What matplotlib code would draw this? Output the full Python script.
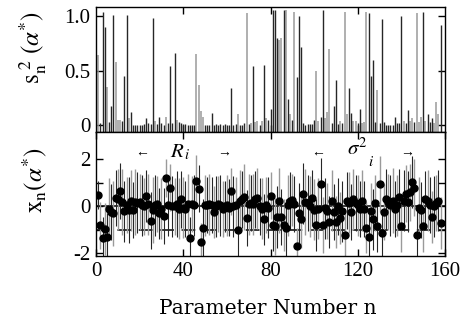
import numpy as np
import matplotlib
matplotlib.use("Agg")
import matplotlib.pyplot as plt
from matplotlib.ticker import FixedLocator

plt.rcParams['font.family'] = ['Liberation Serif', 'DejaVu Serif']
plt.rcParams['mathtext.fontset'] = 'stix'

# ---------------- data ----------------
param_n = list(range(1, 159))

# s_n^2(alpha*) for n = 1..158
s2_values = [
    0.64, 0.02, 1.04, 0.90, 0.35, 0.03, 0.17, 1.01, 0.58, 0.05,
    0.05, 0.04, 0.45, 1.01, 0.06, 0.12, 0.00, 0.00, 0.00, 0.00,
    0.00, 0.01, 0.06, 0.02, 0.01, 0.98, 0.04, 0.01, 0.07, 0.02,
    0.00, 0.07, 0.02, 0.54, 0.02, 0.66, 0.05, 0.03, 0.02, 0.01,
    0.01, 0.00, 0.00, 0.00, 0.00, 0.65, 0.37, 0.13, 0.07, 0.00,
    0.00, 0.00, 0.11, 0.00, 0.01, 0.00, 0.01, 0.00, 0.01, 0.00,
    0.00, 0.34, 0.00, 0.01, 0.10, 0.00, 0.00, 0.02, 1.03, 0.01,
    0.02, 0.54, 0.03, 0.04, 0.00, 0.04, 0.55, 0.06, 0.05, 0.15,
    1.06, 1.06, 0.80, 0.78, 0.80, 1.06, 1.06, 0.24, 0.10, 0.05,
    1.04, 0.44, 1.00, 0.72, 0.02, 0.00, 0.01, 0.01, 0.01, 0.05,
    0.50, 0.04, 0.07, 1.06, 0.06, 0.12, 0.70, 0.02, 0.17, 0.41,
    0.01, 0.04, 0.02, 1.04, 0.10, 0.34, 0.11, 0.04, 0.04, 0.02,
    0.15, 0.02, 0.03, 1.04, 1.03, 0.45, 0.60, 0.03, 0.32, 0.02,
    0.97, 0.03, 0.00, 0.00, 0.00, 0.00, 0.07, 0.02, 0.02, 1.00,
    0.04, 0.02, 0.14, 0.04, 0.06, 0.03, 1.03, 0.03, 0.07, 1.04,
    0.04, 0.10, 0.03, 0.06, 0.02, 0.21, 0.10, 0.92,
]
# parameters whose s_n^2 line is drawn in grey
s2_grey_n = [1, 5, 9, 10, 11, 15, 27, 32, 37, 46, 47, 48, 49, 65, 69, 71,
             73, 74, 76, 78, 84, 85, 87, 89, 91, 101, 102, 105, 106, 107,
             112, 114, 115, 118, 119, 122, 123, 124, 129, 141, 144, 145,
             147, 148, 149, 151, 155, 156, 157]

# x_n(alpha*) for n = 1..158
xn_values = [
    0.50, -0.80, -1.35, -0.95, -1.30, -0.10, -0.25, -0.30, 0.35, 0.30,
    0.65, 0.20, -0.20, 0.05, -0.15, 0.25, -0.15, 0.20, 0.15, 0.20,
    0.05, 0.00, 0.45, 0.10, -0.60, -0.15, 0.05, 0.10, -0.30, -0.10,
    -0.40, 1.20, 0.05, 0.80, 0.00, 0.00, 0.10, -0.10, 0.30, -0.05,
    -0.10, 0.10, -1.35, 0.10, 0.05, 1.10, 0.75, -1.50, -0.90, 0.05,
    0.05, 0.10, 0.05, -0.25, 0.00, 0.10, 0.05, -0.10, 0.00, 0.05,
    -0.05, 0.65, 0.00, 0.05, -1.00, 0.25, 0.30, 0.40, -0.50, 0.10,
    0.15, 0.10, 0.30, 0.35, 0.00, -0.10, -0.55, 0.05, -0.05, 0.45,
    -0.80, -0.85, -0.45, 0.25, -0.45, -0.78, -0.90, 0.05, 0.25, 0.28,
    0.10, -1.70, -0.30, -0.55, 0.55, 0.20, 0.15, 0.00, 0.35, -0.15,
    -0.80, -0.10, 0.95, -0.80, -0.08, -0.20, -0.65, 0.25, -0.25, -0.65,
    0.00, -0.50, -0.20, -1.20, 0.25, 0.15, -0.25, 0.30, 0.15, 0.05,
    -0.10, 0.25, -0.10, -0.90, -1.30, -0.20, -0.55, 0.15, -0.85, 0.95,
    -1.15, -0.25, 0.30, 0.20, 0.05, 0.25, -0.10, 0.05, 0.40, -0.85,
    0.25, 0.55, 0.20, 0.60, 1.05, 0.80, -1.20, -0.05, -0.15, -0.85,
    0.30, 0.25, 0.05, -0.45, 0.00, 0.15, 0.25, -0.70,
]
# half-length of the error bar of x_n
xn_errors = [
    0.6, 1.0, 0.9, 1.1, 1.0, 1.3, 1.2, 1.4, 1.2, 1.3,
    1.2, 1.4, 1.3, 1.2, 1.4, 1.3, 1.2, 1.4, 1.3, 1.2,
    1.3, 1.2, 1.1, 1.3, 1.2, 1.4, 1.3, 1.2, 1.1, 1.3,
    1.2, 0.8, 1.3, 1.0, 1.3, 1.2, 1.4, 1.3, 1.2, 1.3,
    1.2, 1.3, 0.9, 1.2, 1.3, 1.1, 1.0, 0.8, 1.2, 1.3,
    1.2, 1.3, 1.2, 1.1, 1.3, 1.2, 1.3, 1.2, 1.1, 1.3,
    1.2, 1.0, 1.3, 1.2, 1.1, 1.3, 1.2, 1.4, 1.2, 1.3,
    1.2, 1.3, 1.2, 1.3, 1.2, 1.3, 1.1, 1.2, 1.3, 1.0,
    1.1, 1.2, 1.3, 1.4, 1.2, 1.1, 1.2, 1.3, 1.2, 1.1,
    1.2, 0.8, 1.3, 1.2, 1.3, 1.4, 1.2, 1.3, 1.2, 1.3,
    1.1, 1.3, 1.1, 1.2, 1.3, 1.2, 1.1, 1.3, 1.2, 1.1,
    1.2, 1.1, 1.3, 1.0, 1.2, 1.3, 1.2, 1.3, 1.2, 1.3,
    1.2, 1.3, 1.2, 1.1, 1.0, 1.2, 1.3, 1.2, 1.1, 1.2,
    1.0, 1.2, 1.3, 1.2, 1.3, 1.4, 1.2, 1.3, 1.2, 1.1,
    1.3, 1.2, 1.3, 1.2, 1.1, 1.2, 1.0, 1.3, 1.2, 1.1,
    1.2, 1.3, 1.2, 1.1, 1.3, 1.2, 1.3, 1.1,
]

x_ticks = [0, 40, 80, 120, 160]
x_ticklabels = ['0', '40', '80', '120', '160']
s2_ticks = [0, 0.5, 1.0]
s2_ticklabels = ['0', '0.5', '1.0']
xn_ticks = [-2, 0, 2]
xn_ticklabels = ['-2', '0', '2']

# ---------------- figure ----------------
W, H = 472, 328
fig = plt.figure(figsize=(W / 100, H / 100), dpi=100)

L, R = 96, 445
top1, bot1 = 7, 131.5
bot2 = 256
ax1 = fig.add_axes([L / W, 1 - bot1 / H, (R - L) / W, (bot1 - top1) / H])
ax2 = fig.add_axes([L / W, 1 - bot2 / H, (R - L) / W, (bot2 - bot1) / H])

GREY = '#9a9a9a'
DARK = '#262626'

# top panel
n_arr = np.array(param_n)
s2_arr = np.array(s2_values)
ylo1 = -0.06
grey_mask = np.isin(n_arr, s2_grey_n)
ax1.vlines(n_arr[grey_mask], ylo1, s2_arr[grey_mask], colors=GREY, lw=1.1)
ax1.vlines(n_arr[~grey_mask], ylo1, s2_arr[~grey_mask], colors=DARK, lw=1.0)
ax1.set_xlim(0, 160)
ax1.set_ylim(ylo1, 1.083)
ax1.set_yticks(s2_ticks)
ax1.set_yticklabels(s2_ticklabels)
ax1.set_xticks(x_ticks[1:-1])
ax1.set_xticklabels([])

# bottom panel
xn_arr = np.array(xn_values)
err_arr = np.array(xn_errors)
ax2.axhline(0, color='black', lw=1.1, zorder=1)
ax2.axhline(-1, color='black', lw=1.1, ls=(0, (9, 5)), zorder=1)
for i, (n, v, e) in enumerate(zip(n_arr, xn_arr, err_arr)):
    ax2.vlines(n, v - e, v + e, colors=GREY if i % 2 else DARK,
               lw=1.0 if i % 2 else 0.8, zorder=2)
ax2.plot(n_arr, xn_arr, 'o', color='black', ms=5.0, zorder=3)
ax2.set_xlim(0, 160)
ax2.set_ylim(-2.11, 3.19)
ax2.set_yticks(xn_ticks)
ax2.set_yticklabels(xn_ticklabels)
ax2.yaxis.set_minor_locator(FixedLocator([-1, 1]))
ax2.set_xticks(x_ticks)
ax2.set_xticklabels(x_ticklabels)

for ax in (ax1, ax2):
    ax.tick_params(which='both', direction='in', top=True, right=True,
                   length=5, width=1.0, labelsize=15, pad=4)
    for sp in ax.spines.values():
        sp.set_linewidth(1.0)

# annotations
ax2.text(21, 2.3, '\u2190', fontsize=10, ha='center', va='center')
ax2.text(38.5, 2.3, r'$R_{\,i}$', fontsize=15, ha='center', va='center')
ax2.text(58.7, 2.3, '\u2192', fontsize=10, ha='center', va='center')
ax2.text(101.8, 2.3, '\u2190', fontsize=10, ha='center', va='center')
ax2.text(120.0, 2.45, r'$\sigma^{2}$', fontsize=15, ha='center', va='center')
ax2.text(126.0, 1.9, r'$i$', fontsize=11, ha='center', va='center')
ax2.text(142.7, 2.3, '\u2192', fontsize=10, ha='center', va='center')

# axis labels
fig.text(33 / W, 1 - 48 / H, r'$\mathrm{s}_{\mathrm{n}}^{\ 2}\ (\alpha^{*})$',
         rotation=90, ha='center', va='center', fontsize=18)
fig.text(35 / W, 1 - 180 / H, r'$\mathrm{x}_{\mathrm{n}}(\alpha^{*})$',
         rotation=90, ha='center', va='center', fontsize=18)
fig.text(268 / W, 1 - 309 / H, 'Parameter Number n', ha='center',
         va='center', fontsize=14.5, family='DejaVu Serif',
         fontweight='light')

fig.savefig('out.png', dpi=100)
